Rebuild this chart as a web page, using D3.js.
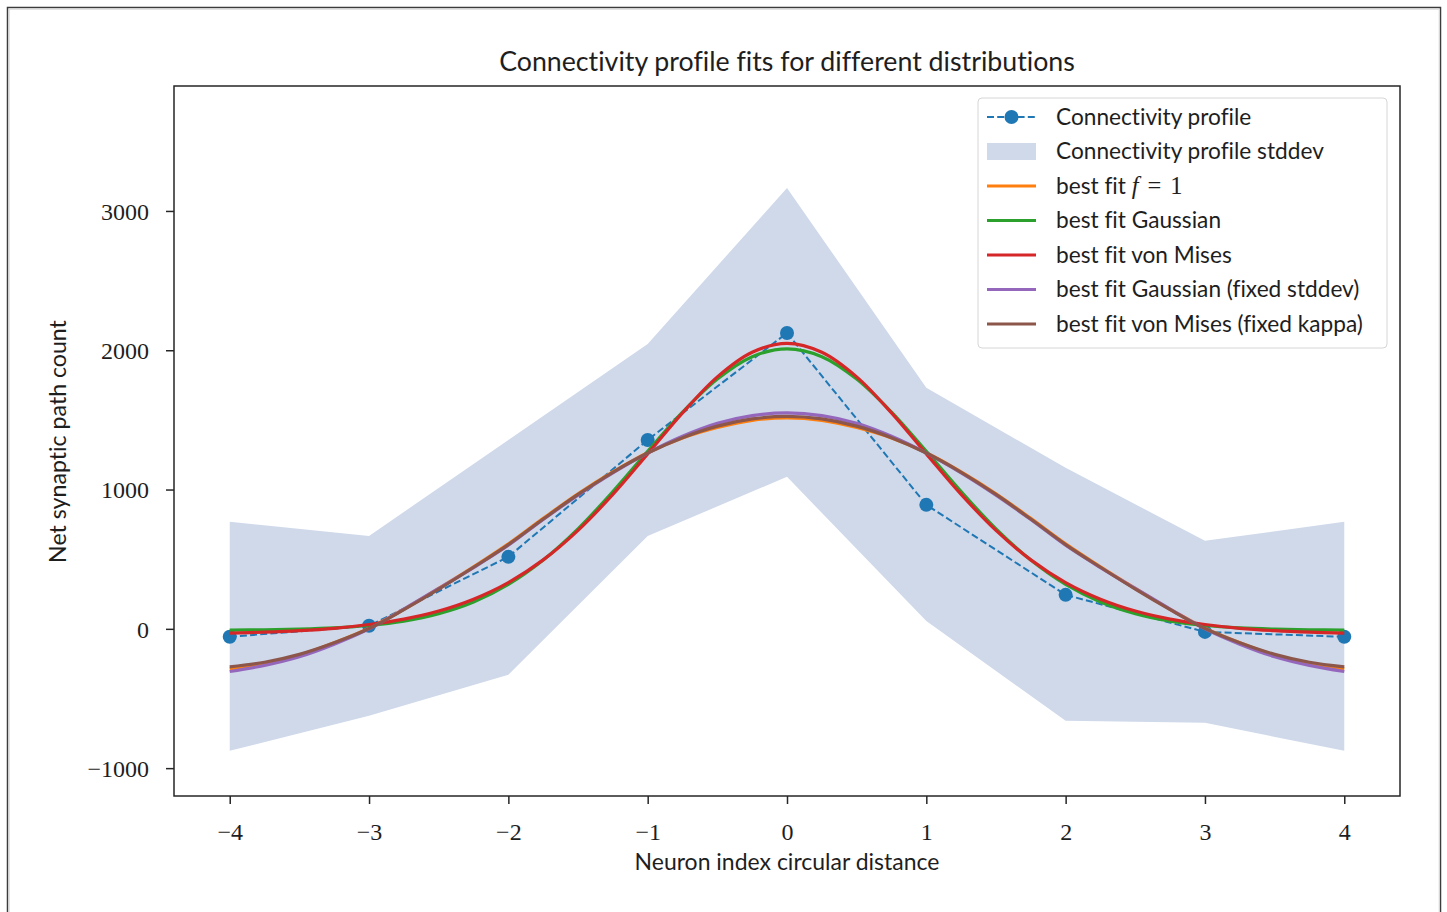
<!DOCTYPE html>
<html>
<head>
<meta charset="utf-8">
<script src="https://cdn.jsdelivr.net/npm/d3@7"></script>
<style>
  html, body { margin: 0; padding: 0; background: #fff; }
  svg { display: block; }
  text { font-variant-ligatures: none; font-feature-settings: "liga" 0; }
</style>
</head>
<body>
<svg id="chart" width="1447" height="912"></svg>
<script>
// ---------------- data ----------------
const distances = [-4, -3, -2, -1, 0, 1, 2, 3, 4];
const profileMean = [-57, 22, 517, 1356, 2124, 890, 244, -22, -57];
const stdUpper = [768, 667, 1356, 2045, 3165, 1730, 1156, 632, 768];
const stdLower = [-876, -624, -330, 667, 1091, 57, -660, -675, -876];

const fitX = [-4, -3.75, -3.5, -3.25, -3, -2.75, -2.5, -2.25, -2, -1.75, -1.5, -1.25, -1, -0.75, -0.5, -0.25,
              0, 0.25, 0.5, 0.75, 1, 1.25, 1.5, 1.75, 2, 2.25, 2.5, 2.75, 3, 3.25, 3.5, 3.75, 4];
const fitF1 = [-287, -250, -190, -100, 5, 140, 290, 445, 610, 793, 970, 1127, 1265, 1370, 1445, 1497,
               1515, 1497, 1445, 1370, 1265, 1127, 970, 793, 610, 445, 290, 140, 5, -100, -190, -250, -287];
const fitGauss = [-9, -7, -2, 7, 24, 55, 109, 193, 319, 494, 718, 985, 1274, 1555, 1793, 1954,
                  2010, 1954, 1793, 1555, 1274, 985, 718, 494, 319, 193, 109, 55, 24, 7, -2, -7, -9];
const fitVonMises = [-31, -24, -13, 4, 31, 70, 128, 213, 332, 495, 707, 965, 1256, 1550, 1809, 1986,
                     2050, 1986, 1809, 1550, 1256, 965, 707, 495, 332, 213, 128, 70, 31, 4, -13, -24, -31];
const fitGaussFixed = [-306, -262, -200, -110, 0, 142, 290, 440, 600, 785, 960, 1120, 1262, 1382, 1475, 1531,
                       1550, 1531, 1475, 1382, 1262, 1120, 960, 785, 600, 440, 290, 142, 0, -110, -200, -262, -306];
const fitVonMisesFixed = [-273, -240, -183, -100, 2, 138, 285, 442, 605, 788, 965, 1124, 1262, 1372, 1455, 1507,
                          1525, 1507, 1455, 1372, 1262, 1124, 965, 788, 605, 442, 285, 138, 2, -100, -183, -240, -273];

const xTicks = [-4, -3, -2, -1, 0, 1, 2, 3, 4];
const yTicks = [-1000, 0, 1000, 2000, 3000];

const titleText = "Connectivity profile fits for different distributions";
const xLabelText = "Neuron index circular distance";
const yLabelText = "Net synaptic path count";

const fitSeries = [
  { name: "best fit f = 1", values: fitF1, color: "#ff7f0e" },
  { name: "best fit Gaussian", values: fitGauss, color: "#2ca02c" },
  { name: "best fit von Mises", values: fitVonMises, color: "#d62728" },
  { name: "best fit Gaussian (fixed stddev)", values: fitGaussFixed, color: "#9467bd" },
  { name: "best fit von Mises (fixed kappa)", values: fitVonMisesFixed, color: "#8c564b" }
];

// ---------------- layout ----------------
const svg = d3.select("#chart");
const plot = { left: 174, top: 86, right: 1400, bottom: 796 };
const bandColor = "#cfd9ea";
const blue = "#1f77b4";
const sans = "Lato, 'Noto Sans', sans-serif";
const sansWeight = 400;
const serif = "'Liberation Serif', 'DejaVu Serif', serif";
const axisColor = "#262626";
const textColor = "#1e1e1e";

const x = d3.scaleLinear().domain([-4.4, 4.4]).range([plot.left, plot.right]);
const y = d3.scaleLinear().domain([-1200, 3897]).range([plot.bottom, plot.top]);

function fitWidth(sel, target) {
  const w = sel.node().getComputedTextLength();
  const fs = parseFloat(sel.attr("font-size"));
  const nfs = fs * target / w;
  sel.attr("font-size", nfs);
  return nfs;
}

// outer frame
svg.append("rect").attr("x", 7.5).attr("y", 7.5).attr("width", 1433).attr("height", 1000)
  .attr("fill", "none").attr("stroke", "#3c3c3c").attr("stroke-width", 1.5);
svg.append("rect").attr("x", 9.2).attr("y", 9.2).attr("width", 1430).attr("height", 1000)
  .attr("fill", "none").attr("stroke", "#d8d8d8").attr("stroke-width", 1);

svg.append("defs").append("clipPath").attr("id", "clip")
  .append("rect").attr("x", plot.left).attr("y", plot.top)
  .attr("width", plot.right - plot.left).attr("height", plot.bottom - plot.top);

const g = svg.append("g").attr("clip-path", "url(#clip)");

// stddev band
const area = d3.area()
  .x((d, i) => x(distances[i]))
  .y0((d, i) => y(stdLower[i]))
  .y1((d, i) => y(stdUpper[i]));
g.append("path").datum(distances).attr("d", area).attr("fill", bandColor);

// connectivity profile
const line = d3.line().x((d, i) => x(distances[i])).y(d => y(d));
g.append("path").datum(profileMean).attr("d", line)
  .attr("fill", "none").attr("stroke", blue).attr("stroke-width", 2)
  .attr("stroke-dasharray", "7,3.2");
g.selectAll("circle.pt").data(profileMean).join("circle")
  .attr("class", "pt")
  .attr("cx", (d, i) => x(distances[i])).attr("cy", d => y(d))
  .attr("r", 7).attr("fill", blue);

// fits
const fitLine = d3.line().x((d, i) => x(fitX[i])).y(d => y(d)).curve(d3.curveCatmullRom.alpha(0.5));
fitSeries.forEach(s => {
  g.append("path").datum(s.values).attr("d", fitLine)
    .attr("fill", "none").attr("stroke", s.color).attr("stroke-width", 3.2)
    .attr("stroke-linecap", "butt");
});

// spines
svg.append("rect").attr("x", plot.left).attr("y", plot.top)
  .attr("width", plot.right - plot.left).attr("height", plot.bottom - plot.top)
  .attr("fill", "none").attr("stroke", axisColor).attr("stroke-width", 1.5);

const fmt = d => d < 0 ? "\u2212" + Math.abs(d) : String(d);

// x axis
const xAxis = svg.append("g").attr("transform", `translate(0,${plot.bottom})`)
  .call(d3.axisBottom(x).tickValues(xTicks).tickSize(8).tickPadding(19).tickFormat(fmt));
xAxis.select(".domain").remove();
xAxis.selectAll(".tick line").attr("stroke", axisColor).attr("stroke-width", 1.5);
xAxis.selectAll(".tick text").attr("font-family", serif).attr("font-size", 24)
  .attr("fill", textColor).attr("dy", "0.71em");

// y axis
const yAxis = svg.append("g").attr("transform", `translate(${plot.left},0)`)
  .call(d3.axisLeft(y).tickValues(yTicks).tickSize(8).tickPadding(17).tickFormat(fmt));
yAxis.select(".domain").remove();
yAxis.selectAll(".tick line").attr("stroke", axisColor).attr("stroke-width", 1.5);
yAxis.selectAll(".tick text").attr("font-family", serif).attr("font-size", 24)
  .attr("fill", textColor).attr("dy", "0.34em");

// title & labels
const title = svg.append("text").attr("x", 787).attr("y", 71).attr("text-anchor", "middle")
  .attr("font-family", sans).attr("font-weight", sansWeight).attr("font-size", 22)
  .attr("fill", textColor).text(titleText);
fitWidth(title, 576);

const xl = svg.append("text").attr("x", 787).attr("y", 870).attr("text-anchor", "middle")
  .attr("font-family", sans).attr("font-weight", sansWeight).attr("font-size", 20)
  .attr("fill", textColor).text(xLabelText);
fitWidth(xl, 305);

const yl = svg.append("text").attr("transform", "translate(66,441.5) rotate(-90)")
  .attr("text-anchor", "middle")
  .attr("font-family", sans).attr("font-weight", sansWeight).attr("font-size", 20)
  .attr("fill", textColor).text(yLabelText);
fitWidth(yl, 243);

// legend
const leg = svg.append("g");
leg.append("rect").attr("x", 978).attr("y", 98).attr("width", 409).attr("height", 250)
  .attr("rx", 4).attr("fill", "#fff").attr("fill-opacity", 0.8)
  .attr("stroke", "#d6d6d6").attr("stroke-width", 1);

const rowY = i => 117 + i * 34.5;
const hx0 = 987, hx1 = 1036, tx = 1056;

leg.append("line").attr("x1", hx0).attr("x2", hx1).attr("y1", rowY(0)).attr("y2", rowY(0))
  .attr("stroke", blue).attr("stroke-width", 2).attr("stroke-dasharray", "7,3.2");
leg.append("circle").attr("cx", (hx0 + hx1) / 2).attr("cy", rowY(0)).attr("r", 7).attr("fill", blue);
leg.append("rect").attr("x", hx0).attr("y", rowY(1) - 8.5).attr("width", hx1 - hx0).attr("height", 17)
  .attr("fill", bandColor);
fitSeries.forEach((s, k) => {
  leg.append("line").attr("x1", hx0).attr("x2", hx1).attr("y1", rowY(k + 2)).attr("y2", rowY(k + 2))
    .attr("stroke", s.color).attr("stroke-width", 3.2);
});

const legLabels = ["Connectivity profile", "Connectivity profile stddev"];
const ref = leg.append("text").attr("x", tx).attr("y", rowY(1)).attr("dy", "0.35em")
  .attr("font-family", sans).attr("font-weight", sansWeight).attr("font-size", 20)
  .attr("fill", textColor).text(legLabels[1]);
const legFs = fitWidth(ref, 268);
leg.append("text").attr("x", tx).attr("y", rowY(0)).attr("dy", "0.35em")
  .attr("font-family", sans).attr("font-weight", sansWeight).attr("font-size", legFs)
  .attr("fill", textColor).text(legLabels[0]);

fitSeries.forEach((s, k) => {
  const t = leg.append("text").attr("x", tx).attr("y", rowY(k + 2)).attr("dy", "0.35em")
    .attr("font-family", sans).attr("font-weight", sansWeight).attr("font-size", legFs)
    .attr("fill", textColor);
  if (k === 0) {
    t.append("tspan").text("best fit ");
    t.append("tspan").attr("font-family", serif).attr("font-weight", 400).attr("font-style", "italic")
      .attr("font-size", legFs * 1.08).text("f");
    t.append("tspan").attr("font-family", serif).attr("font-weight", 400).attr("dx", 9)
      .attr("font-size", legFs * 1.08).text("=");
    t.append("tspan").attr("font-family", serif).attr("font-weight", 400).attr("dx", 9)
      .attr("font-size", legFs * 1.08).text("1");
  } else {
    t.text(s.name);
  }
});
</script>
</body>
</html>
